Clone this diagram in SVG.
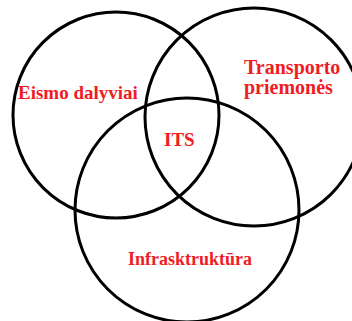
<svg xmlns="http://www.w3.org/2000/svg" width="352" height="321" viewBox="0 0 352 321">
<style>
.c{fill:none;stroke:#000;stroke-width:3}
.t{font-family:"Liberation Serif","Times New Roman",serif;font-weight:bold;font-size:19px;fill:#f01c24}
.l{font-size:20px}
.s{font-size:18px}
</style>
<rect width="352" height="321" fill="#fff"/>
<g id="eismo">
<circle class="c" cx="116" cy="115" r="103"/>
<text class="t" x="18" y="99">Eismo dalyviai</text>
</g>
<g id="transporto">
<circle class="c" cx="254" cy="117" r="109"/>
<text class="t l" x="244" y="74">Transporto</text>
<text class="t l" x="244" y="94">priemonės</text>
</g>
<g id="infra">
<circle class="c" cx="187" cy="210" r="112"/>
<text class="t s" x="128" y="265">Infrasktruktūra</text>
</g>
<g id="its">
<text class="t" x="164" y="146">ITS</text>
</g>
<g id="connectors"/>
</svg>
